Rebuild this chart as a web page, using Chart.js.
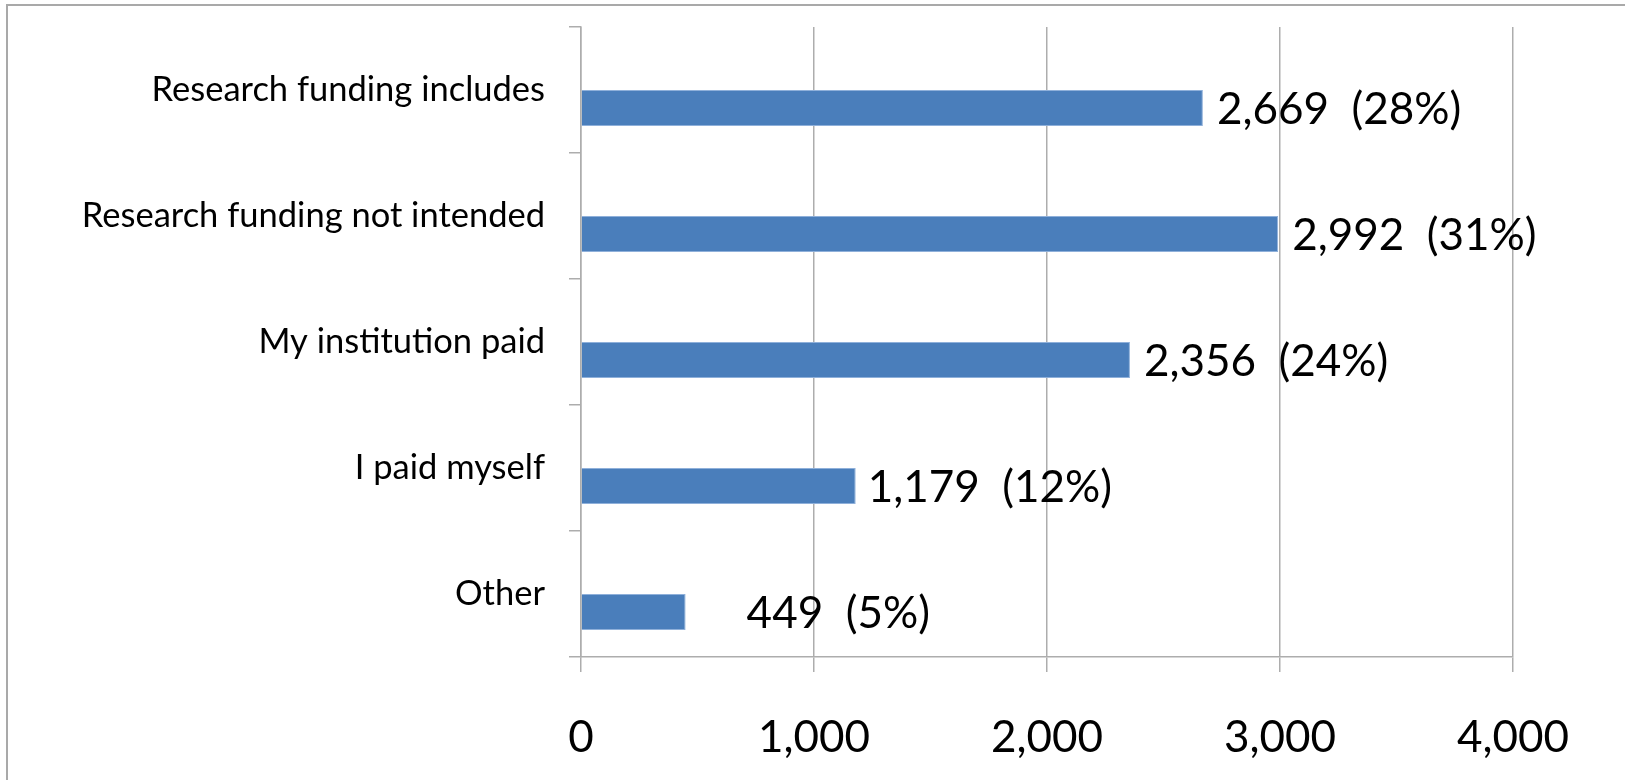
<!DOCTYPE html>
<html>
<head>
<meta charset="utf-8">
<script src="https://cdn.jsdelivr.net/npm/chart.js@4/dist/chart.umd.min.js"></script>
<style>
    body { margin: 0; background: #fff; overflow: hidden; }
    .frame {
        position: absolute;
        left: 6px;
        top: 4px;
        width: 2000px;
        height: 2000px;
        border-left: 2px solid #a9a9a9;
        border-top: 2px solid #a9a9a9;
    }
    #funding_chart { position: absolute; left: 0; top: 0; }
</style>
</head>
<body>
<div class="frame"></div>
<canvas id="funding_chart" width="1625" height="780"></canvas>
<script>
const categories = [
    "Research funding includes",
    "Research funding not intended",
    "My institution paid",
    "I paid myself",
    "Other",
];
const responses = [2669, 2992, 2356, 1179, 449];
const percents = [28, 31, 24, 12, 5];
// second (empty) series of the original sheet, keeps the bars in the lower slot
const emptySeries = [0, 0, 0, 0, 0];
const xTicks = [0, 1000, 2000, 3000, 4000];

// gap between bar end and its label
const labelGap = [14, 14, 14, 12, 61];

const fundingChart = document.querySelector("#funding_chart").getContext("2d");

const barLabels = {
    id: "barLabels",
    afterDatasetsDraw(chart) {
        const ctx = chart.ctx;
        const meta = chart.getDatasetMeta(1);
        ctx.save();
        ctx.font = "44px Lato";
        ctx.fillStyle = "#000";
        ctx.textAlign = "left";
        ctx.textBaseline = "middle";
        meta.data.forEach((bar, i) => {
            const text = responses[i].toLocaleString("en-US") + "  (" + percents[i] + "%)";
            ctx.fillText(text, bar.x + labelGap[i], bar.y + 2);
        });
        ctx.restore();
    },
};

const chartOptions = {
    indexAxis: "y",
    responsive: false,
    animation: false,
    devicePixelRatio: 1,
    layout: {
        padding: { top: 27, right: 112, left: 0, bottom: 0 },
    },
    plugins: {
        legend: { display: false },
        tooltip: { enabled: false },
    },
    scales: {
        x: {
            min: xTicks[0],
            max: xTicks[xTicks.length - 1],
            afterBuildTicks: (scale) => {
                scale.ticks = xTicks.map((v) => ({ value: v }));
            },
            afterFit: (scale) => {
                scale.height = 123;
            },
            ticks: {
                color: "#000",
                font: { family: "Lato", size: 44 },
                padding: 39,
                maxRotation: 0,
            },
            grid: {
                color: "#adadad",
                lineWidth: 1.5,
                drawOnChartArea: true,
                drawTicks: true,
                tickLength: 15,
            },
            border: { color: "#adadad", width: 1.5 },
        },
        y: {
            afterFit: (scale) => {
                scale.width = 581;
                scale.paddingTop = 0;
                scale.paddingBottom = 0;
            },
            ticks: {
                color: "#000",
                font: { family: "Lato", size: 34.5 },
                padding: 24,
            },
            grid: {
                color: "#adadad",
                lineWidth: 1.5,
                drawOnChartArea: false,
                drawTicks: true,
                tickLength: 12,
            },
            border: { color: "#adadad", width: 1.5 },
        },
    },
};

const funding = new Chart(fundingChart, {
    type: "bar",
    data: {
        labels: categories,
        datasets: [
            {
                label: "",
                data: emptySeries,
                backgroundColor: "rgba(0,0,0,0)",
                borderWidth: 0,
                categoryPercentage: 2 / 3.5,
                barPercentage: 1,
            },
            {
                label: "Responses",
                data: responses,
                backgroundColor: "#4a7ebb",
                borderColor: "#8fb0da",
                borderWidth: 1,
                categoryPercentage: 2 / 3.5,
                barPercentage: 1,
            },
        ],
    },
    options: chartOptions,
    plugins: [barLabels],
});
</script>
</body>
</html>
